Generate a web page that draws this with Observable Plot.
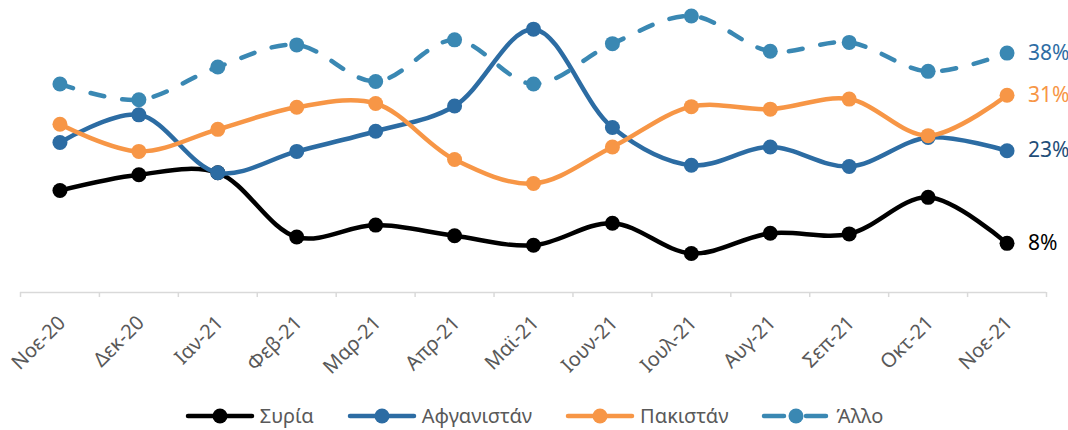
<!DOCTYPE html>
<html>
<head>
<meta charset="utf-8">
<script src="https://cdn.jsdelivr.net/npm/d3@7"></script>
<script src="https://cdn.jsdelivr.net/npm/@observablehq/plot@0.6"></script>
<style>
  html, body { margin: 0; padding: 0; background: #fff; overflow: hidden; }
  #chart { width: 1068px; height: 430px; position: relative; font-family: "Noto Sans", "Open Sans", sans-serif; }
  #legend { display: flex; justify-content: center; align-items: center; height: 28px; gap: 33px; }
  .item { display: flex; align-items: center; gap: 5px; font-size: 20px; color: #595959; }
  .item span { display: inline-block; line-height: 26px; }
</style>
</head>
<body>
<div id="chart"></div>
<script>
const months = ["Νοε-20","Δεκ-20","Ιαν-21","Φεβ-21","Μαρ-21","Απρ-21","Μαϊ-21","Ιουν-21","Ιουλ-21","Αυγ-21","Σεπ-21","Οκτ-21","Νοε-21"];
const seriesNames = ["Συρία","Αφγανιστάν","Πακιστάν","Άλλο"];
const syria       = [16.2,18.7,19.0, 8.8,10.7, 9.0, 7.5,11.0, 6.2, 9.4, 9.3,15.1, 7.8];
const afghanistan = [23.8,28.2,19.0,22.4,25.6,29.6,41.8,26.2,20.2,23.1,20.0,24.6,22.5];
const pakistan    = [26.7,22.4,25.9,29.4,30.0,21.1,17.3,23.1,29.5,29.1,30.7,24.9,31.3];
const other       = [33.1,30.6,35.8,39.3,33.5,40.1,33.1,39.5,43.9,38.3,39.7,35.1,38.0];
const endLabels   = ["8%","23%","31%","38%"];
const lineColors  = ["#000000","#2C6CA3","#F79646","#3A88B3"];
const labelColors = ["#000000","#1F4E79","#F79646","#2E6DA4"];

const values = [syria, afghanistan, pakistan, other];
const rows = [];
seriesNames.forEach((s, k) => months.forEach((m, i) => rows.push({series: s, k, month: m, value: values[k][i]})));
const lastRows = seriesNames.map((s, k) => ({series: s, k, month: months[months.length - 1], value: values[k][months.length - 1], label: endLabels[k]}));

const W = 1068, H = 402;
const step = (W - 20 - 22) / months.length;

const marks = [
  Plot.ruleY([0], {stroke: "#d9d9d9", strokeWidth: 1.5}),
  Plot.ruleX(months, {x: d => d, y1: 0, y2: -0.8, dx: -step / 2, stroke: "#d9d9d9", strokeWidth: 1.5}),
  Plot.ruleX([months[months.length - 1]], {x: d => d, y1: 0, y2: -0.8, dx: step / 2, stroke: "#d9d9d9", strokeWidth: 1.5}),
  Plot.text(months, {x: d => d, y: 0, dy: 27, dx: 2, rotate: -45, textAnchor: "end", text: d => d, fontSize: 20, fill: "#595959", fontFamily: "Noto Sans"})
];
seriesNames.forEach((s, k) => {
  const data = rows.filter(r => r.k === k);
  marks.push(Plot.line(data, {x: "month", y: "value", stroke: lineColors[k], strokeWidth: 4.5, curve: "catmull-rom",
    strokeDasharray: k === 3 ? "14,18" : null, strokeLinecap: "round"}));
  marks.push(Plot.dot(data, {x: "month", y: "value", fill: lineColors[k], r: 7.5, stroke: "none"}));
});
marks.push(Plot.text(lastRows, {x: "month", y: "value", text: "label", dx: 21, textAnchor: "start", fontSize: 21,
  fill: d => labelColors[d.k], fontFamily: "Noto Sans"}));

const plot = Plot.plot({
  width: W, height: H,
  marginLeft: 20, marginRight: 22, marginTop: 8.5, marginBottom: H - 292,
  x: {type: "point", domain: months, padding: 0.5, round: false, axis: null},
  y: {domain: [0, 45], axis: null},
  style: {background: "transparent", overflow: "visible"},
  marks
});
document.getElementById("chart").appendChild(plot);

const legend = document.createElement("div");
legend.id = "legend";
seriesNames.forEach((s, k) => {
  const item = document.createElement("div");
  item.className = "item";
  const sw = d3.create("svg").attr("width", 70).attr("height", 18);
  sw.append("line").attr("x1", 3).attr("x2", 67).attr("y1", 9).attr("y2", 9)
    .attr("stroke", lineColors[k]).attr("stroke-width", 4.5).attr("stroke-linecap", "round")
    .attr("stroke-dasharray", k === 3 ? "20,22" : null);
  sw.append("circle").attr("cx", 35).attr("cy", 9).attr("r", 7.5).attr("fill", lineColors[k]);
  item.appendChild(sw.node());
  const t = document.createElement("span");
  t.textContent = s;
  item.appendChild(t);
  legend.appendChild(item);
});
document.getElementById("chart").appendChild(legend);
</script>
</body>
</html>
